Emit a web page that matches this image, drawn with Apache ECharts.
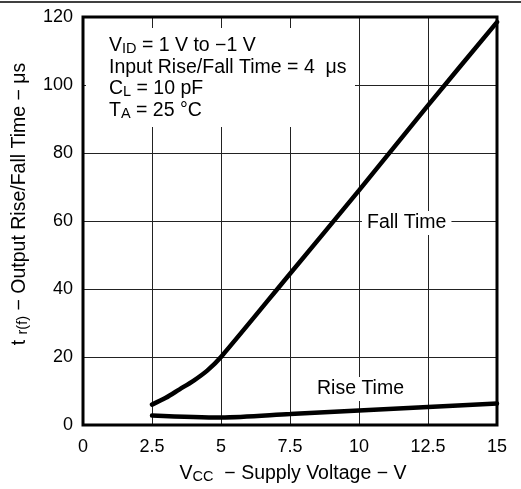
<!DOCTYPE html>
<html><head><meta charset="utf-8">
<script src="https://cdn.jsdelivr.net/npm/echarts@6/dist/echarts.min.js"></script>
<style>html,body{margin:0;padding:0;background:#fff}#c{width:521px;height:489px}</style>
</head><body><div id="c"></div>
<script>
var fallX = [2.5, 3, 3.5, 4, 4.5, 5, 7.5, 10, 12.5, 15];
var fallY = [6, 8, 10.5, 13, 16, 20, 44.5, 69, 94, 118.5];
var riseX = [2.5, 5, 7.5, 10, 12.5, 15];
var riseY = [2.8, 2.2, 3.2, 4.3, 5.3, 6.3];
var xTicks = [0, 2.5, 5, 7.5, 10, 12.5, 15];
var yTicks = [0, 20, 40, 60, 80, 100, 120];

var FONT = 'Liberation Sans';
var chart = echarts.init(document.getElementById('c'));
function pairs(xs, ys) { return xs.map(function (x, i) { return [x, ys[i]]; }); }
var sub = {fontSize: 14.5, fontFamily: FONT, color: '#000', verticalAlign: 'bottom'};
var main = {fontSize: 19.5, fontFamily: FONT, color: '#000', lineHeight: 21.5};

chart.setOption({
  animation: false,
  backgroundColor: '#fff',
  grid: {left: 83, right: 24, top: 17, bottom: 64, show: false},
  xAxis: {
    type: 'value', min: 0, max: 15, interval: 2.5,
    axisLine: {show: false}, axisTick: {show: false},
    axisLabel: {fontSize: 18, fontFamily: FONT, color: '#000', margin: 13,
      formatter: function (v) { return xTicks.indexOf(v) >= 0 ? String(v) : ''; }},
    splitLine: {show: true, lineStyle: {color: '#222', width: 1}}
  },
  yAxis: {
    type: 'value', min: 0, max: 120, interval: 20,
    axisLine: {show: false}, axisTick: {show: false},
    axisLabel: {fontSize: 18, fontFamily: FONT, color: '#000', margin: 10,
      formatter: function (v) { return yTicks.indexOf(v) >= 0 ? String(v) : ''; }},
    splitLine: {show: true, lineStyle: {color: '#222', width: 1}}
  },
  series: [
    {type: 'line', name: 'Fall Time', data: pairs(fallX, fallY), smooth: 0.3, showSymbol: false,
      lineStyle: {color: '#000', width: 4.5, cap: 'round'}, z: 5},
    {type: 'line', name: 'Rise Time', data: pairs(riseX, riseY), smooth: 0.3, showSymbol: false,
      lineStyle: {color: '#000', width: 4.5, cap: 'round'}, z: 5}
  ],
  graphic: [
    {type: 'line', shape: {x1: 0, y1: 2, x2: 521, y2: 2}, style: {stroke: '#000', lineWidth: 1.5}, z: 100},
    {type: 'rect', shape: {x: 83, y: 17, width: 414, height: 408}, style: {fill: 'none', stroke: '#000', lineWidth: 3}, z: 100},
    {type: 'rect', shape: {x: 86, y: 28, width: 269, height: 99}, style: {fill: '#fff'}, z: 50},
    {type: 'text', left: 109, top: 36, z: 60, style: {
      text: '{m|V}{s|ID}{m| = 1 V to −1 V}\n{m|Input Rise/Fall Time = 4  μs}\n{m|C}{s|L}{m| = 10 pF}\n{m|T}{s|A}{m| = 25 °C}',
      rich: {m: main, s: sub}}},
    {type: 'text', left: 362, top: 211, z: 60, style: {
      text: 'Fall Time', font: '19.5px ' + FONT, fill: '#000', backgroundColor: '#fff', padding: [2, 5, 2, 5]}},
    {type: 'text', left: 313, top: 377, z: 60, style: {
      text: 'Rise Time', font: '19.5px ' + FONT, fill: '#000', backgroundColor: '#fff', padding: [2, 4, 2, 4]}},
    {type: 'text', x: 293, y: 474, z: 60, style: {
      text: '{m|V}{s|CC}{m|  − Supply Voltage − V}', rich: {m: main, s: sub}, align: 'center', verticalAlign: 'middle'}},
    {type: 'text', x: 20, y: 204, rotation: Math.PI / 2, z: 60, style: {
      text: '{m|t }{s|r(f)}{m| − Output Rise/Fall Time − μs}', rich: {m: main, s: sub}, align: 'center', verticalAlign: 'middle'}}
  ]
});
</script></body></html>
